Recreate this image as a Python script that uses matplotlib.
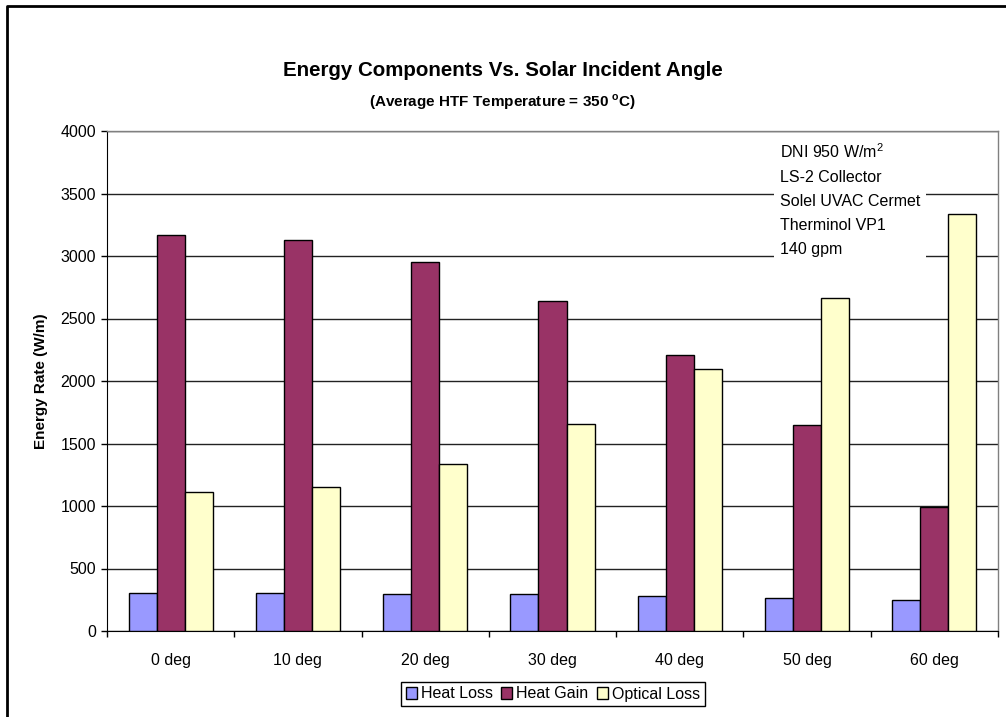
import matplotlib.pyplot as plt
import numpy as np
from matplotlib.lines import Line2D

plt.rcParams['font.family'] = 'Liberation Sans'
plt.rcParams['mathtext.fontset'] = 'custom'
plt.rcParams['mathtext.rm'] = 'Liberation Sans'
plt.rcParams['mathtext.bf'] = 'Liberation Sans:bold'

angles = ['0 deg', '10 deg', '20 deg', '30 deg', '40 deg', '50 deg', '60 deg']
heat_loss = [307, 306, 299, 293, 279, 266, 247]
heat_gain = [3165, 3130, 2952, 2642, 2205, 1652, 990]
optical_loss = [1112, 1152, 1335, 1655, 2099, 2668, 3337]

W, H = 1006, 717
fig = plt.figure(figsize=(W / 100, H / 100), dpi=100)
ax = fig.add_axes([107 / W, 1 - 631 / H, (998 - 107) / W, (631 - 131) / H])

x = np.arange(len(angles))
bw = 0.22
ax.bar(x - bw, heat_loss, bw, color='#9999FF', edgecolor='black', linewidth=1, zorder=3, label='Heat Loss')
ax.bar(x, heat_gain, bw, color='#993366', edgecolor='black', linewidth=1, zorder=3, label='Heat Gain')
ax.bar(x + bw, optical_loss, bw, color='#FFFFCC', edgecolor='black', linewidth=1, zorder=3, label='Optical Loss')

ax.set_xlim(-0.5, len(angles) - 0.5)
ax.set_ylim(0, 4000)
ax.set_yticks(np.arange(0, 4001, 500))
ax.yaxis.grid(True, color='#222222', linewidth=1, zorder=0)

# category labels centred, tick marks on the boundaries
ax.set_xticks(x)
ax.set_xticklabels(angles, fontsize=11.5)
ax.set_xticks(np.arange(-0.5, len(angles)), minor=True)
ax.tick_params(axis='x', which='major', length=0, pad=16)
ax.tick_params(axis='x', which='minor', length=4, width=1, direction='out')
ax.tick_params(axis='y', length=4, width=1, direction='out', pad=4, labelsize=11.5)

for s in ['top', 'right']:
    ax.spines[s].set_color('#808080')
    ax.spines[s].set_linewidth(1)
ax.spines['left'].set_color('black')
ax.spines['bottom'].set_color('black')

ax.set_ylabel('Energy Rate (W/m)', fontsize=11, fontweight='bold', labelpad=9)

ax.text(0.755, 0.978,
        'DNI 950 W/m$^2$\nLS-2 Collector\nSolel UVAC Cermet\nTherminol VP1\n140 gpm',
        transform=ax.transAxes, ha='left', va='top', fontsize=11.5, linespacing=1.76,
        zorder=4, bbox=dict(facecolor='white', edgecolor='none', pad=4))

fig.text(503 / W, 1 - 71 / H, 'Energy Components Vs. Solar Incident Angle',
         ha='center', va='center', fontsize=14.8, fontweight='bold')
fig.text(503 / W, 1 - 102 / H, r'(Average HTF Temperature = 350 $^{\mathbf{o}}$C)',
         ha='center', va='center', fontsize=11, fontweight='bold')

handles, labels = ax.get_legend_handles_labels()
leg = fig.legend(handles, labels, loc='center', bbox_to_anchor=(553 / W, 1 - 694 / H),
                 ncol=3, fontsize=11.5, frameon=True, fancybox=False, framealpha=1,
                 edgecolor='black', handlelength=0.7, handleheight=0.7,
                 handletextpad=0.25, columnspacing=0.5, borderpad=0.3, borderaxespad=0)
leg.get_frame().set_linewidth(1)

# outer chart frame
fig.add_artist(Line2D([7 / W, 7 / W, 1], [0, 1 - 6 / H, 1 - 6 / H],
                      transform=fig.transFigure, color='black', linewidth=2))

fig.savefig('out.png', dpi=100)
